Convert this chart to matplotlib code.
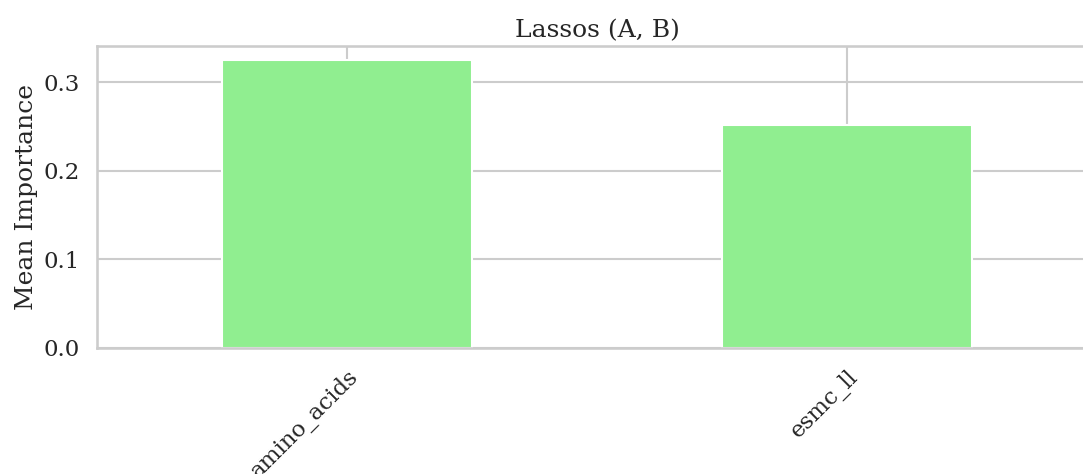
import pandas as pd
import matplotlib
matplotlib.use('Agg')
import matplotlib.pyplot as plt
import seaborn as sns

features = ["amino_acids", "esmc_ll"]
mean_importance = [0.3244, 0.2511]

sns.set_theme(style="whitegrid", context="talk")
plt.rcParams['font.family'] = ['DejaVu Serif']

importance = pd.Series(mean_importance, index=features)

fig = plt.figure(figsize=(10.83, 4.74), dpi=100)
ax = fig.add_axes([97 / 1083, 126 / 474, 1000 / 1083, 302 / 474])
importance.plot(kind="bar", ax=ax, color="lightgreen", edgecolor="white")
ax.set_title("Lassos (A, B)")
ax.set_ylabel("Mean Importance")
ax.set_xlabel("")
ax.set_yticks([0.0, 0.1, 0.2, 0.3])
plt.setp(ax.get_xticklabels(), rotation=45, ha="right", rotation_mode="anchor")

fig.savefig("out.png", dpi=100)
